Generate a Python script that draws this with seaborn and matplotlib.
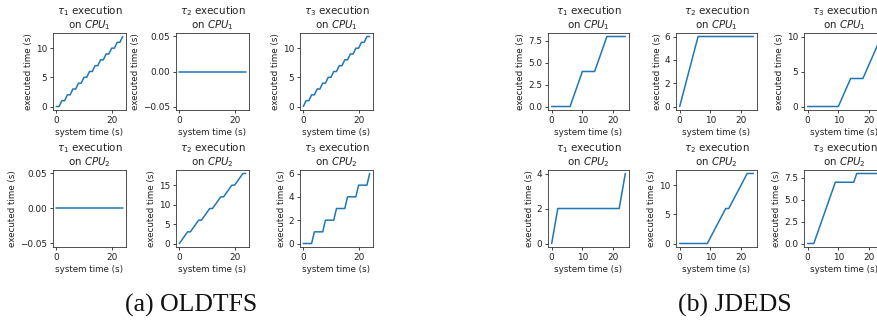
import matplotlib
matplotlib.use("Agg")
import matplotlib.pyplot as plt
import seaborn as sns
import pandas as pd

# System time samples (s)
time_s = [0, 1, 2, 3, 4, 5, 6, 7, 8, 9, 10, 11, 12, 13, 14, 15, 16, 17, 18, 19, 20, 21, 22, 23, 24]

# OLDTFS: executed time per task on each CPU (s)
old_cpu1_tau1 = [0, 0, 1, 1, 2, 2, 3, 3, 4, 4, 5, 5, 6, 6, 7, 7, 8, 8, 9, 9, 10, 10, 11, 11, 12]
old_cpu1_tau2 = [0, 0, 0, 0, 0, 0, 0, 0, 0, 0, 0, 0, 0, 0, 0, 0, 0, 0, 0, 0, 0, 0, 0, 0, 0]
old_cpu1_tau3 = [0, 1, 1, 2, 2, 3, 3, 4, 4, 5, 5, 6, 6, 7, 7, 8, 8, 9, 9, 10, 10, 11, 11, 12, 12]
old_cpu2_tau1 = [0, 0, 0, 0, 0, 0, 0, 0, 0, 0, 0, 0, 0, 0, 0, 0, 0, 0, 0, 0, 0, 0, 0, 0, 0]
old_cpu2_tau2 = [0, 1, 2, 3, 3, 4, 5, 6, 6, 7, 8, 9, 9, 10, 11, 12, 12, 13, 14, 15, 15, 16, 17, 18, 18]
old_cpu2_tau3 = [0, 0, 0, 0, 1, 1, 1, 1, 2, 2, 2, 2, 3, 3, 3, 3, 4, 4, 4, 4, 5, 5, 5, 5, 6]

# JDEDS: executed time per task on each CPU (s)
jd_cpu1_tau1 = [0, 0, 0, 0, 0, 0, 0, 1, 2, 3, 4, 4, 4, 4, 4, 5, 6, 7, 8, 8, 8, 8, 8, 8, 8]
jd_cpu1_tau2 = [0, 1, 2, 3, 4, 5, 6, 6, 6, 6, 6, 6, 6, 6, 6, 6, 6, 6, 6, 6, 6, 6, 6, 6, 6]
jd_cpu1_tau3 = [0, 0, 0, 0, 0, 0, 0, 0, 0, 0, 0, 1, 2, 3, 4, 4, 4, 4, 4, 5, 6, 7, 8, 9, 10]
jd_cpu2_tau1 = [0, 1, 2, 2, 2, 2, 2, 2, 2, 2, 2, 2, 2, 2, 2, 2, 2, 2, 2, 2, 2, 2, 2, 3, 4]
jd_cpu2_tau2 = [0, 0, 0, 0, 0, 0, 0, 0, 0, 0, 1, 2, 3, 4, 5, 6, 6, 7, 8, 9, 10, 11, 12, 12, 12]
jd_cpu2_tau3 = [0, 0, 0, 1, 2, 3, 4, 5, 6, 7, 7, 7, 7, 7, 7, 7, 8, 8, 8, 8, 8, 8, 8, 8, 8]

captions = ["(a) OLDTFS", "(b) JDEDS"]

groups = [
    [[old_cpu1_tau1, old_cpu1_tau2, old_cpu1_tau3],
     [old_cpu2_tau1, old_cpu2_tau2, old_cpu2_tau3]],
    [[jd_cpu1_tau1, jd_cpu1_tau2, jd_cpu1_tau3],
     [jd_cpu2_tau1, jd_cpu2_tau2, jd_cpu2_tau3]],
]

sns.set_theme(style="ticks", rc={
    "axes.linewidth": 0.6,
    "axes.edgecolor": "#333333",
    "xtick.major.size": 2.3,
    "ytick.major.size": 2.3,
    "xtick.major.width": 0.6,
    "ytick.major.width": 0.6,
    "xtick.major.pad": 2.2,
    "ytick.major.pad": 2.0,
    "xtick.labelsize": 6.4,
    "ytick.labelsize": 6.4,
    "axes.labelsize": 6.3,
    "axes.titlesize": 7.4,
    "axes.labelpad": 2.0,
    "axes.titlepad": 3.5,
    "text.color": "#222222",
    "axes.labelcolor": "#222222",
    "xtick.color": "#222222",
    "ytick.color": "#222222",
})
plt.rcParams["font.family"] = ["DejaVu Sans"]

W, H = 878, 322
fig = plt.figure(figsize=(W / 100, H / 100), dpi=100)

# Panel geometry in pixels: (left edges, width) per group, row top/bottom
col_lefts = [[53, 176, 300], [548, 676, 804]]
col_widths = [73, 81]
row_spans = [(33, 110), (170, 247)]

for g, group in enumerate(groups):
    for r, row in enumerate(group):
        for c, series in enumerate(row):
            top, bottom = row_spans[r]
            left = col_lefts[g][c]
            ax = fig.add_axes([left / W, 1 - bottom / H, col_widths[g] / W, (bottom - top) / H])
            df = pd.DataFrame({"system time (s)": time_s, "executed time (s)": series})
            sns.lineplot(data=df, x="system time (s)", y="executed time (s)", ax=ax,
                         color="#1f77b4", linewidth=1.1)
            for side in ["top", "right"]:
                ax.spines[side].set_visible(True)
            ax.set_title(r"$\tau_%d$ execution" % (c + 1) + "\n" + r"on $CPU_%d$" % (r + 1),
                         linespacing=1.05)
            if g == 0:
                ax.set_xticks([0, 20])
            else:
                ax.set_xticks([0, 10, 20])

fig.text(191 / W, 1 - 305 / H, captions[0], ha="center", va="center",
         fontsize=18.5, family="Liberation Serif", color="#111111")
fig.text(735 / W, 1 - 305 / H, captions[1], ha="center", va="center",
         fontsize=18.5, family="Liberation Serif", color="#111111")

fig.savefig("out.png", dpi=100, facecolor="white")
